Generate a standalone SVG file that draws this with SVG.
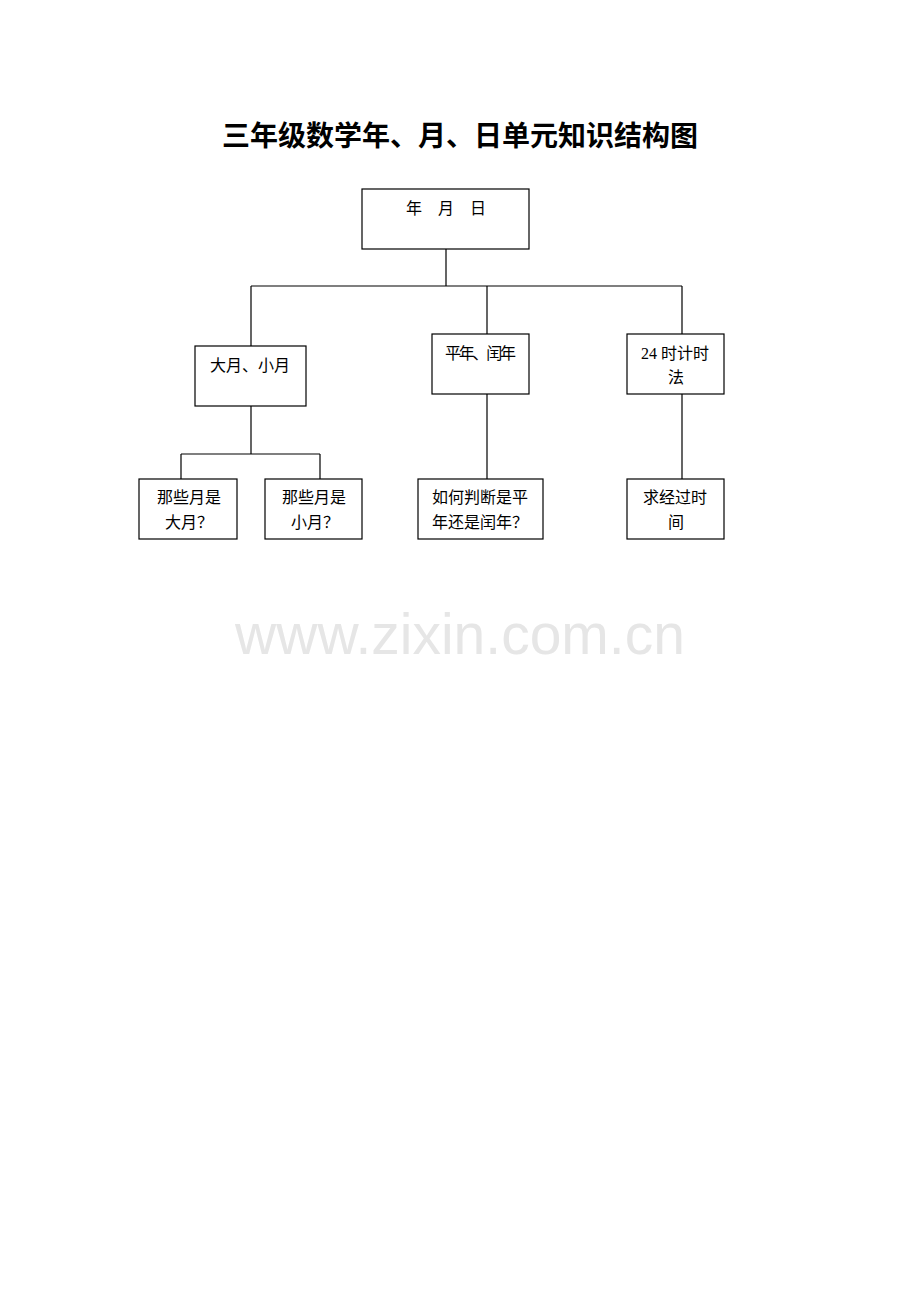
<svg xmlns="http://www.w3.org/2000/svg" width="920" height="1302" viewBox="0 0 920 1302">
<style>
.box{fill:#fff;stroke:#000;stroke-width:1.2}
.ln{fill:none;stroke:#000;stroke-width:1.2}
.t{font-family:"Liberation Serif","Noto Sans CJK SC",serif;font-size:16px;fill:#000}
.title{font-family:"Noto Sans CJK SC",sans-serif;font-size:28px;font-weight:bold;fill:#000}
.wm{font-family:"Liberation Sans",Arial,sans-serif;font-size:57px;fill:#e6e6e6}
</style>
<rect width="920" height="1302" fill="#fff"/>
<text class="title" x="460" y="146" text-anchor="middle">三年级数学年、月、日单元知识结构图</text>
<g id="connectors">
<path class="ln" d="M446 249V286M251 286H682M251 286V346M487 286V334M682 286V334"/>
<path class="ln" d="M251 406V454M181 454H320M181 454V479M320 454V479"/>
<path class="ln" d="M487 394V479M682 394V479"/>
</g>
<g id="n-root"><rect class="box" x="362" y="189" width="167" height="60"/><text class="t" x="406" y="214">年　月　日</text></g>
<g id="n-daxiao"><rect class="box" x="195" y="346" width="111" height="60"/><text class="t" x="210" y="371">大月、小月</text></g>
<g id="n-pingrun"><rect class="box" x="432" y="334" width="97" height="60"/><text class="t" x="445" y="359" textLength="71" lengthAdjust="spacing">平年、闰年</text></g>
<g id="n-24"><rect class="box" x="627" y="334" width="97" height="60"/><text class="t" x="641" y="359">24 时计时</text><text class="t" x="668" y="383">法</text></g>
<g id="n-da"><rect class="box" x="139" y="479" width="98" height="60"/><text class="t" x="157" y="503">那些月是</text><text class="t" x="165" y="528">大月？</text></g>
<g id="n-xiao"><rect class="box" x="265" y="479" width="97" height="60"/><text class="t" x="282" y="503">那些月是</text><text class="t" x="291" y="528">小月？</text></g>
<g id="n-judge"><rect class="box" x="418" y="479" width="125" height="60"/><text class="t" x="432" y="503">如何判断是平</text><text class="t" x="432" y="528">年还是闰年？</text></g>
<g id="n-elapsed"><rect class="box" x="627" y="479" width="97" height="60"/><text class="t" x="643" y="503">求经过时</text><text class="t" x="668" y="528">间</text></g>
<text class="wm" x="460" y="654" text-anchor="middle">www.zixin.com.cn</text>
</svg>
